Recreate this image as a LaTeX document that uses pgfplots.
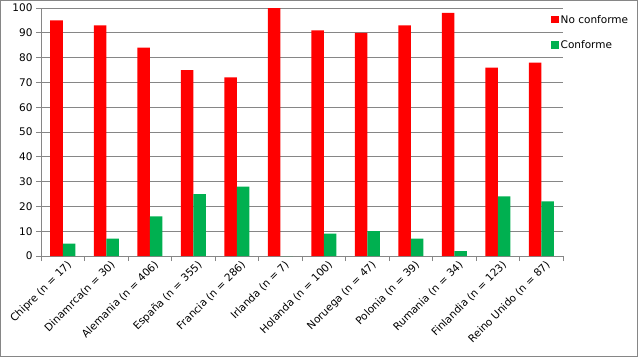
\documentclass[border=0pt]{standalone}
\usepackage{pgfplots}
\pgfplotsset{compat=1.18}
\usepackage{fontspec}
\setmainfont{DejaVu Sans}
\definecolor{ncred}{HTML}{FF0000}
\definecolor{cgreen}{HTML}{00B050}
\definecolor{gridgray}{HTML}{868686}
\begin{document}
\begin{tikzpicture}[x=1pt,y=1pt]
\begin{axis}[
  at={(0,0)}, anchor=south west,
  scale only axis, width=522pt, height=248pt,
  xmin=-0.5, xmax=11.5, ymin=0, ymax=100,
  ytick={0,10,...,100},
  /pgf/number format/assume math mode=true,
  ymajorgrids, grid style={gridgray, line width=0.8pt},
  axis x line=bottom, axis y line=left,
  axis line style={-, gridgray, line width=0.8pt},
  tick style={gridgray, line width=0.8pt},
  tick align=outside, major tick length=5pt,
  xtick={-0.5,0.5,...,11.5}, xticklabels={},
  extra x ticks={0,1,...,11},
  extra x tick labels={Chipre (n = 17),Dinamrca(n = 30),Alemania (n = 406),España (n = 355),Francia (n = 286),Irlanda (n = 7),Holanda (n = 100),Noruega (n = 47),Polonia (n = 39),Rumania (n = 34),Finlandia (n = 123),Reino Unido (n = 87)},
  extra x tick style={major tick length=0pt, xticklabel style={rotate=45, anchor=north east, inner sep=1pt, yshift=-4pt, xshift=1pt}},
  ticklabel style={font=\fontsize{10.5}{12}\selectfont, text=black},
  ybar=0pt, bar width=12.5pt,
  legend style={draw=none, fill=none, at={(axis description cs:1,1)}, anchor=north west, xshift=-12pt, yshift=-5pt, font=\fontsize{10.5}{12}\selectfont, row sep=12pt, inner sep=0pt},
  legend cell align=left,
  legend image code/.code={\fill[#1] (0pt,-3.5pt) rectangle (7.5pt,4pt);},
]
\addplot[fill=ncred, draw=none] coordinates {(0,95) (1,93) (2,84) (3,75) (4,72) (5,100) (6,91) (7,90) (8,93) (9,98) (10,76) (11,78)};
\addplot[fill=cgreen, draw=none] coordinates {(0,5) (1,7) (2,16) (3,25) (4,28) (5,0) (6,9) (7,10) (8,7) (9,2) (10,24) (11,22)};
\legend{No conforme, Conforme}
\end{axis}
\pgfresetboundingbox
\path[use as bounding box] (-41,-101) rectangle (597,256);
\draw[gridgray, line width=1pt] (-40.5,-100.5) rectangle (596.5,255.5);
\end{tikzpicture}
\end{document}
